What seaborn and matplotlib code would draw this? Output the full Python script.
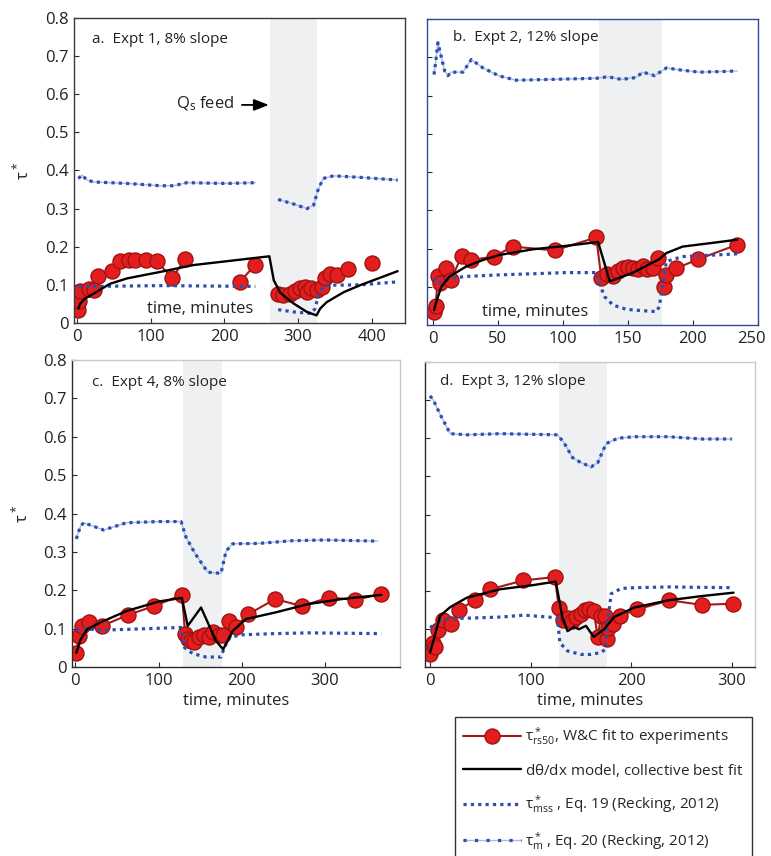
import numpy as np
import matplotlib
matplotlib.use("Agg")
import matplotlib.pyplot as plt
import matplotlib.transforms as mtransforms
import seaborn as sns
from matplotlib.lines import Line2D
from matplotlib.legend_handler import HandlerTuple

N = np.nan

# ---------------- data ----------------
# Panel a: Expt 1, 8% slope
a_red_t = [2, 3, 4.5, 16, 22.6, 29, 48, 59, 70, 79, 94, 108, 129, 147, N,
           221, 242, N,
           273, 280, 289, 296, 303, 310, 312, 318, 325, 332, 337, 343, 353, N, 368, N, 400]
a_red_v = [0.035, 0.057, 0.083, 0.089, 0.086, 0.123, 0.137, 0.163, 0.165, 0.166, 0.166, 0.162, 0.119, 0.167, N,
           0.108, 0.153, N,
           0.075, 0.073, 0.077, 0.084, 0.093, 0.095, 0.081, 0.093, 0.086, 0.095, 0.117, 0.128, 0.127, N, 0.141, N, 0.158]
a_blk_t = [2, 4.5, 11, 22.6, 45, 68, 113, 158, 203, 261, 267, 276, 294, 312, 325, 330, 339, 362, 384, 435]
a_blk_v = [0.038, 0.051, 0.064, 0.077, 0.103, 0.117, 0.134, 0.152, 0.162, 0.175, 0.112, 0.079, 0.051, 0.029,
           0.020, 0.038, 0.055, 0.081, 0.099, 0.136]
a_mss_t = [2, 22, 113, 242, N, 273, 294, 318, 323, 327, 334, 339, 384, 435]
a_mss_v = [0.095, 0.096, 0.098, 0.096, N, 0.035, 0.029, 0.025, 0.038, 0.068, 0.096, 0.099, 0.100, 0.108]
a_m_t = [2, 7, 13.5, 22.6, 68, 113, 131, 149, 203, 242, N, 273, 294, 312, 321, 327, 334, 348, 384, 435]
a_m_v = [0.379, 0.388, 0.375, 0.370, 0.366, 0.360, 0.360, 0.368, 0.366, 0.368, N,
         0.324, 0.312, 0.300, 0.309, 0.349, 0.379, 0.386, 0.382, 0.375]

# Panel b: Expt 2, 12% slope
b_red_t = [0.8, 2, 3.8, 5.6, 10, 14, 22, 29.5, 46.7, 61.5, 93.6, 125.6, 129.5, 134, 138.5, 142, 146, 150,
           154, 158, 161.5, 165, 169, 173, 177.7, 179.5, 187, 204, 234]
b_red_v = [0.035, 0.050, 0.127, 0.111, 0.148, 0.118, 0.181, 0.170, 0.179, 0.205, 0.195, 0.229, 0.122, 0.134,
           0.128, 0.142, 0.148, 0.151, 0.148, 0.146, 0.155, 0.146, 0.148, 0.175, 0.099, 0.131, 0.148, 0.172, 0.210]
b_blk_t = [0.8, 2.6, 6.4, 12.8, 25.6, 38.5, 51, 77, 102.6, 127, 136, 154, 174, 179.5, 192, 218, 234]
b_blk_v = [0.039, 0.061, 0.100, 0.127, 0.153, 0.170, 0.183, 0.198, 0.207, 0.217, 0.114, 0.137, 0.172,
           0.188, 0.205, 0.216, 0.223]
b_mss_t = [0.8, 3.8, 12.8, 25.6, 51, 77, 102.6, 125.6, 128, 132, 138.5, 148.7, 159, 172, 174, 177, 179.5,
           192, 205, 234]
b_mss_v = [0.122, 0.109, 0.122, 0.127, 0.131, 0.134, 0.137, 0.137, 0.109, 0.074, 0.052, 0.041, 0.038,
           0.035, 0.048, 0.109, 0.166, 0.179, 0.181, 0.186]
b_m_t = [0.8, 2, 3.8, 5.6, 9, 11.5, 14, 23, 29.5, 38.5, 51, 64, 90, 125.6, 134.6, 145, 156, 161.5, 170.5,
         179.5, 192, 205, 234]
b_m_v = [0.655, 0.686, 0.738, 0.712, 0.664, 0.652, 0.661, 0.661, 0.694, 0.672, 0.651, 0.640, 0.642, 0.645,
         0.649, 0.642, 0.647, 0.661, 0.652, 0.672, 0.666, 0.661, 0.664]

# Panel c: Expt 4, 8% slope
c_red_t = [1.2, 4, 8, 16.7, 32, 63.6, 95, 128, 132, 135, 139, 143, 149, 155, 161, 165, 173, 177, 184, 193,
           208, 240, 272, 305, 336, 367.5]
c_red_v = [0.037, 0.081, 0.107, 0.116, 0.107, 0.136, 0.159, 0.188, 0.085, 0.072, 0.068, 0.066, 0.077, 0.084,
           0.077, 0.090, 0.084, 0.084, 0.120, 0.105, 0.138, 0.177, 0.159, 0.181, 0.175, 0.190]
c_blk_t = [1.2, 6, 14, 30, 61.6, 101, 128, 135, 151, 169, 177.6, 189, 205, 240, 280, 320, 367.5]
c_blk_v = [0.037, 0.070, 0.098, 0.116, 0.146, 0.171, 0.180, 0.107, 0.155, 0.068, 0.046, 0.094, 0.125,
           0.142, 0.164, 0.177, 0.188]
c_mss_t = [1.2, 6, 30, 61.6, 127, 131, 141, 157, 175, 179, 185, 200.6, 240, 280, 367.5]
c_mss_v = [0.096, 0.101, 0.096, 0.098, 0.103, 0.051, 0.035, 0.026, 0.026, 0.051, 0.077, 0.084, 0.087,
           0.089, 0.087]
c_m_t = [1.2, 6, 10, 34, 61.6, 101, 127, 133, 143, 149, 159, 175, 181, 189, 220, 260, 300, 363.5]
c_m_v = [0.334, 0.366, 0.376, 0.357, 0.376, 0.379, 0.379, 0.338, 0.299, 0.279, 0.247, 0.244, 0.302,
         0.321, 0.322, 0.329, 0.331, 0.328]

# Panel d: Expt 3, 12% slope
d_red_t = [0, 2.7, 5, 8.3, 12.7, 20.7, 28.3, 45, 60, 92.7, 124, 128, 132, 136.7, 140.7, 145, 150, 154,
           158.3, 162.7, 166.7, 170, 174, 176, 176.7, 181.7, 189, 206, 238, 270, 301]
d_red_v = [0.035, 0.064, 0.052, 0.096, 0.122, 0.112, 0.149, 0.176, 0.204, 0.227, 0.236, 0.156, 0.122,
           0.129, 0.121, 0.131, 0.138, 0.149, 0.151, 0.147, 0.079, 0.134, 0.134, 0.073, 0.103, 0.114,
           0.134, 0.151, 0.175, 0.163, 0.166]
d_blk_t = [0, 3.3, 10, 20, 36.7, 70, 103, 125, 131.7, 136.7, 143, 148, 155, 162.7, 173, 183, 203, 237, 270, 301.7]
d_blk_v = [0.038, 0.068, 0.134, 0.157, 0.182, 0.204, 0.215, 0.224, 0.129, 0.094, 0.105, 0.099, 0.108,
           0.079, 0.099, 0.131, 0.156, 0.175, 0.186, 0.195]
d_mss_t = [0, 5, 10, 20, 36.7, 70, 93.3, 126.7, 129, 136.7, 150, 160, 170, 174, 176.7, 180, 190, 203, 237, 300]
d_mss_v = [0.108, 0.099, 0.122, 0.127, 0.128, 0.131, 0.136, 0.129, 0.064, 0.042, 0.033, 0.033, 0.038,
           0.046, 0.121, 0.192, 0.206, 0.208, 0.210, 0.208]
d_m_t = [0, 3.3, 10, 20, 36.7, 70, 126.7, 133, 141.7, 150, 160, 166.7, 175, 186.7, 203, 237, 270, 300]
d_m_v = [0.711, 0.700, 0.663, 0.612, 0.609, 0.612, 0.609, 0.589, 0.549, 0.536, 0.525, 0.536, 0.586,
         0.600, 0.604, 0.604, 0.598, 0.598]

titles = ["a.  Expt 1, 8% slope", "b.  Expt 2, 12% slope", "c.  Expt 4, 8% slope", "d.  Expt 3, 12% slope"]
feed_spans = [(262, 326), (128, 176), (129, 176), (128, 176)]
xlims = [(-4, 445), (-4.6, 250), (-4, 390), (-5, 323)]
xticks = [[0, 100, 200, 300, 400], [0, 50, 100, 150, 200, 250], [0, 100, 200, 300], [0, 100, 200, 300]]
yticks = [0, 0.1, 0.2, 0.3, 0.4, 0.5, 0.6, 0.7, 0.8]

legend_labels = [r"$\tau^*_{rs50}$, W&C fit to experiments",
                 r"d$\theta$/dx model, collective best fit",
                 r"$\tau^*_{mss}$ , Eq. 19 (Recking, 2012)",
                 r"$\tau^*_{m}$ , Eq. 20 (Recking, 2012)"]

# ---------------- style ----------------
sns.set_style("white")
FONT = "Open Sans"
plt.rcParams["font.family"] = [FONT, "DejaVu Sans"]
plt.rcParams["mathtext.fontset"] = "custom"
plt.rcParams["mathtext.rm"] = FONT
plt.rcParams["mathtext.it"] = FONT
plt.rcParams["mathtext.bf"] = FONT + ":bold"
plt.rcParams["mathtext.default"] = "regular"

RED_FACE = "#e41e1e"
RED_EDGE = "#a01212"
RED_LINE = "#a51818"
BLUE = "#2b4fae"
BLUE_LIGHT = "#a9b9e2"
SHADE = "#eef0f2"
DARK = "#2a2a2a"
LIGHT = "#c8c8c8"
TXT = "#222222"
FS = 11       # titles
FS_T = 12     # tick labels, axis labels

fig = plt.figure(figsize=(7.71, 8.56), dpi=100)
W, H = 771, 856
boxes = [(74, 405, 18, 323), (427, 758, 19, 325), (72, 400, 360, 667), (425, 755, 362, 667)]
axes = []
for (l, r, t, b) in boxes:
    axes.append(fig.add_axes([l / W, 1 - b / H, (r - l) / W, (b - t) / H]))


def segments(t, v):
    segs, cx, cy = [], [], []
    for x, y in zip(t, v):
        if np.isnan(x) or np.isnan(y):
            if cx:
                segs.append((cx, cy))
            cx, cy = [], []
        else:
            cx.append(x)
            cy.append(y)
    if cx:
        segs.append((cx, cy))
    return segs


def draw(ax, t, v, **kw):
    for sx, sy in segments(t, v):
        sns.lineplot(x=sx, y=sy, ax=ax, sort=False, estimator=None, **kw)


dot = (0, (1.0, 1.3))
panels = [
    (a_red_t, a_red_v, a_blk_t, a_blk_v, a_mss_t, a_mss_v, a_m_t, a_m_v),
    (b_red_t, b_red_v, b_blk_t, b_blk_v, b_mss_t, b_mss_v, b_m_t, b_m_v),
    (c_red_t, c_red_v, c_blk_t, c_blk_v, c_mss_t, c_mss_v, c_m_t, c_m_v),
    (d_red_t, d_red_v, d_blk_t, d_blk_v, d_mss_t, d_mss_v, d_m_t, d_m_v),
]

for i, (ax, pdata) in enumerate(zip(axes, panels)):
    rt, rv, kt, kv, st, sv, mt, mv = pdata
    ax.axvspan(*feed_spans[i], color=SHADE, lw=0, zorder=0)
    draw(ax, rt, rv, color=RED_LINE, lw=1.5, marker="o", markersize=10.8,
         markerfacecolor=RED_FACE, markeredgecolor=RED_EDGE, markeredgewidth=1.0, zorder=2)
    draw(ax, mt, mv, color=BLUE_LIGHT, lw=1.0, zorder=3)
    draw(ax, mt, mv, color=BLUE, lw=2.3, linestyle=dot, zorder=3)
    draw(ax, st, sv, color=BLUE, lw=2.3, linestyle=dot, zorder=3)
    draw(ax, kt, kv, color="black", lw=1.7, zorder=4)

    ax.set_xlim(*xlims[i])
    ax.set_ylim(0, 0.8)
    ax.set_xticks(xticks[i])
    ax.set_yticks(yticks)
    ax.set_yticklabels(["0" if y == 0 else f"{y:.1f}" for y in yticks])
    ax.tick_params(direction="in", length=3.5, width=0.8, color=DARK, labelsize=FS_T,
                   labelcolor=TXT, pad=4, left=True, bottom=True)
    ax.set_xlabel("")
    ax.set_ylabel("")
    if i in (1, 3):
        ax.tick_params(labelleft=False)
    else:
        ax.set_ylabel(r"$\tau^*$", fontsize=FS_T, color=TXT)
        ax.yaxis.set_label_coords(-0.125, 0.5)

    for sp in ax.spines.values():
        sp.set_visible(True)
        sp.set_linewidth(1.0)
    if i == 0:
        for sp in ax.spines.values():
            sp.set_color("#3a3a3a")
    elif i == 1:
        for sp in ax.spines.values():
            sp.set_color("#34489a")
    else:
        ax.spines["left"].set_color(DARK)
        ax.spines["bottom"].set_color(DARK)
        ax.spines["top"].set_color(LIGHT)
        ax.spines["right"].set_color(LIGHT)

# nudge the last tick label of panel b inward so it stays inside the figure
last = axes[1].get_xticklabels()[-1]
last.set_transform(last.get_transform() + mtransforms.ScaledTranslation(-7 / 100, 0, fig.dpi_scale_trans))

tpos = [(0.054, 0.928), (0.079, 0.941), (0.061, 0.928), (0.045, 0.937)]
for ax, ttl, (tx, ty) in zip(axes, titles, tpos):
    ax.text(tx, ty, ttl, transform=ax.transAxes, fontsize=FS, ha="left", va="center", color=TXT)

# "time, minutes" inside top panels, below lower panels
axes[0].text(0.38, 0.045, "time, minutes", transform=axes[0].transAxes, fontsize=FS_T, ha="center",
             va="center", color=TXT, zorder=6)
axes[1].text(0.326, 0.044, "time, minutes", transform=axes[1].transAxes, fontsize=FS_T, ha="center",
             va="center", color=TXT, zorder=6)
for ax in axes[2:]:
    ax.set_xlabel("time, minutes", fontsize=FS_T, color=TXT, labelpad=3)

# Qs feed annotation
axes[0].annotate("", xy=(264, 0.572), xytext=(220, 0.572),
                 arrowprops=dict(arrowstyle="-|>,head_length=0.9,head_width=0.35", color="black", lw=1.3))
axes[0].text(213, 0.575, r"Q$_{\mathregular{s}}$ feed", fontsize=FS_T, ha="right", va="center", color=TXT)

# legend
h_red = Line2D([], [], color=RED_LINE, lw=1.5, marker="o", markersize=10.8,
               markerfacecolor=RED_FACE, markeredgecolor=RED_EDGE)
h_blk = Line2D([], [], color="black", lw=1.7)
h_mss = Line2D([], [], color=BLUE, lw=2.3, linestyle=dot)
h_m = (Line2D([], [], color=BLUE_LIGHT, lw=1.0), Line2D([], [], color=BLUE, lw=2.3, linestyle=(0, (1.0, 2.6))))
leg = fig.legend([h_red, h_blk, h_mss, h_m], legend_labels, loc="upper left",
                 bbox_to_anchor=(455 / W, 1 - 717 / H), fontsize=11, frameon=True, fancybox=False,
                 handlelength=3.8, handletextpad=0.25, labelspacing=0.95, borderpad=0.55,
                 borderaxespad=0, handler_map={tuple: HandlerTuple(ndivide=1)})
leg.get_frame().set_edgecolor("black")
leg.get_frame().set_linewidth(1.0)

fig.savefig("out.png", dpi=100)
